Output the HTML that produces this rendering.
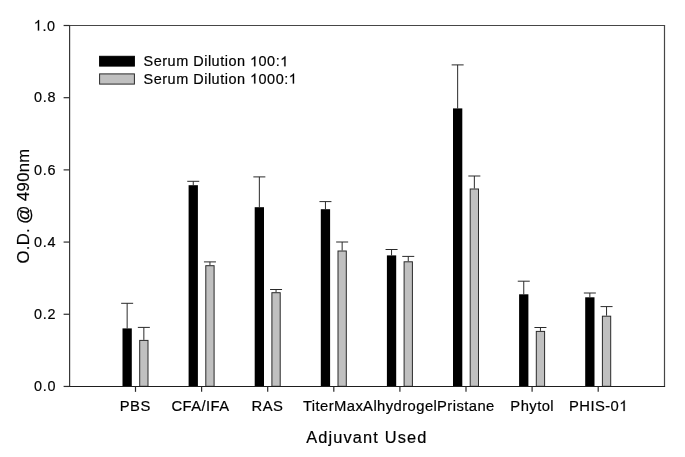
<!DOCTYPE html>
<html><head><meta charset="utf-8"><style>
html,body{margin:0;padding:0;background:#fff;}
svg{display:block;will-change:transform;filter:blur(0.3px);}
text{font-family:"Liberation Sans",sans-serif;fill:#000;stroke:#000;stroke-width:0.2px;}
</style></head><body>
<svg width="685" height="457" viewBox="0 0 685 457">
<line x1="127.15" y1="328.40" x2="127.15" y2="303.30" stroke="#2a2a2a" stroke-width="1"/>
<line x1="121.15" y1="303.30" x2="133.15" y2="303.30" stroke="#2a2a2a" stroke-width="1"/>
<line x1="143.85" y1="339.90" x2="143.85" y2="327.40" stroke="#2a2a2a" stroke-width="1"/>
<line x1="137.85" y1="327.40" x2="149.85" y2="327.40" stroke="#2a2a2a" stroke-width="1"/>
<rect x="122.50" y="328.40" width="9.30" height="57.90" fill="#000"/>
<rect x="139.70" y="340.40" width="8.30" height="45.90" fill="#c0c0c0" stroke="#2a2a2a" stroke-width="1"/>
<line x1="193.25" y1="185.20" x2="193.25" y2="181.30" stroke="#2a2a2a" stroke-width="1"/>
<line x1="187.25" y1="181.30" x2="199.25" y2="181.30" stroke="#2a2a2a" stroke-width="1"/>
<line x1="209.95" y1="265.20" x2="209.95" y2="261.90" stroke="#2a2a2a" stroke-width="1"/>
<line x1="203.95" y1="261.90" x2="215.95" y2="261.90" stroke="#2a2a2a" stroke-width="1"/>
<rect x="188.60" y="185.20" width="9.30" height="201.10" fill="#000"/>
<rect x="205.80" y="265.70" width="8.30" height="120.60" fill="#c0c0c0" stroke="#2a2a2a" stroke-width="1"/>
<line x1="259.35" y1="207.20" x2="259.35" y2="176.90" stroke="#2a2a2a" stroke-width="1"/>
<line x1="253.35" y1="176.90" x2="265.35" y2="176.90" stroke="#2a2a2a" stroke-width="1"/>
<line x1="276.05" y1="292.20" x2="276.05" y2="289.50" stroke="#2a2a2a" stroke-width="1"/>
<line x1="270.05" y1="289.50" x2="282.05" y2="289.50" stroke="#2a2a2a" stroke-width="1"/>
<rect x="254.70" y="207.20" width="9.30" height="179.10" fill="#000"/>
<rect x="271.90" y="292.70" width="8.30" height="93.60" fill="#c0c0c0" stroke="#2a2a2a" stroke-width="1"/>
<line x1="325.45" y1="209.20" x2="325.45" y2="201.60" stroke="#2a2a2a" stroke-width="1"/>
<line x1="319.45" y1="201.60" x2="331.45" y2="201.60" stroke="#2a2a2a" stroke-width="1"/>
<line x1="342.15" y1="250.50" x2="342.15" y2="242.00" stroke="#2a2a2a" stroke-width="1"/>
<line x1="336.15" y1="242.00" x2="348.15" y2="242.00" stroke="#2a2a2a" stroke-width="1"/>
<rect x="320.80" y="209.20" width="9.30" height="177.10" fill="#000"/>
<rect x="338.00" y="251.00" width="8.30" height="135.30" fill="#c0c0c0" stroke="#2a2a2a" stroke-width="1"/>
<line x1="391.55" y1="255.40" x2="391.55" y2="249.50" stroke="#2a2a2a" stroke-width="1"/>
<line x1="385.55" y1="249.50" x2="397.55" y2="249.50" stroke="#2a2a2a" stroke-width="1"/>
<line x1="408.25" y1="261.30" x2="408.25" y2="256.40" stroke="#2a2a2a" stroke-width="1"/>
<line x1="402.25" y1="256.40" x2="414.25" y2="256.40" stroke="#2a2a2a" stroke-width="1"/>
<rect x="386.90" y="255.40" width="9.30" height="130.90" fill="#000"/>
<rect x="404.10" y="261.80" width="8.30" height="124.50" fill="#c0c0c0" stroke="#2a2a2a" stroke-width="1"/>
<line x1="457.65" y1="108.40" x2="457.65" y2="64.90" stroke="#2a2a2a" stroke-width="1"/>
<line x1="451.65" y1="64.90" x2="463.65" y2="64.90" stroke="#2a2a2a" stroke-width="1"/>
<line x1="474.35" y1="188.50" x2="474.35" y2="176.00" stroke="#2a2a2a" stroke-width="1"/>
<line x1="468.35" y1="176.00" x2="480.35" y2="176.00" stroke="#2a2a2a" stroke-width="1"/>
<rect x="453.00" y="108.40" width="9.30" height="277.90" fill="#000"/>
<rect x="470.20" y="189.00" width="8.30" height="197.30" fill="#c0c0c0" stroke="#2a2a2a" stroke-width="1"/>
<line x1="523.75" y1="294.30" x2="523.75" y2="281.20" stroke="#2a2a2a" stroke-width="1"/>
<line x1="517.75" y1="281.20" x2="529.75" y2="281.20" stroke="#2a2a2a" stroke-width="1"/>
<line x1="540.45" y1="330.90" x2="540.45" y2="327.50" stroke="#2a2a2a" stroke-width="1"/>
<line x1="534.45" y1="327.50" x2="546.45" y2="327.50" stroke="#2a2a2a" stroke-width="1"/>
<rect x="519.10" y="294.30" width="9.30" height="92.00" fill="#000"/>
<rect x="536.30" y="331.40" width="8.30" height="54.90" fill="#c0c0c0" stroke="#2a2a2a" stroke-width="1"/>
<line x1="589.85" y1="297.30" x2="589.85" y2="293.00" stroke="#2a2a2a" stroke-width="1"/>
<line x1="583.85" y1="293.00" x2="595.85" y2="293.00" stroke="#2a2a2a" stroke-width="1"/>
<line x1="606.55" y1="315.70" x2="606.55" y2="306.60" stroke="#2a2a2a" stroke-width="1"/>
<line x1="600.55" y1="306.60" x2="612.55" y2="306.60" stroke="#2a2a2a" stroke-width="1"/>
<rect x="585.20" y="297.30" width="9.30" height="89.00" fill="#000"/>
<rect x="602.40" y="316.20" width="8.30" height="70.10" fill="#c0c0c0" stroke="#2a2a2a" stroke-width="1"/>
<line x1="69.00" y1="25.50" x2="665.10" y2="25.50" stroke="#464646" stroke-width="1.2"/>
<line x1="664.50" y1="25.50" x2="664.50" y2="386.45" stroke="#464646" stroke-width="1.2"/>
<line x1="69.60" y1="25.50" x2="69.60" y2="386.45" stroke="#383838" stroke-width="1.2"/>
<line x1="69.00" y1="386.45" x2="665.10" y2="386.45" stroke="#1e1e1e" stroke-width="1.1"/>
<line x1="63.60" y1="386.45" x2="69.60" y2="386.45" stroke="#2e2e2e" stroke-width="1.2"/>
<line x1="63.60" y1="314.26" x2="69.60" y2="314.26" stroke="#2e2e2e" stroke-width="1.2"/>
<line x1="63.60" y1="242.07" x2="69.60" y2="242.07" stroke="#2e2e2e" stroke-width="1.2"/>
<line x1="63.60" y1="169.88" x2="69.60" y2="169.88" stroke="#2e2e2e" stroke-width="1.2"/>
<line x1="63.60" y1="97.69" x2="69.60" y2="97.69" stroke="#2e2e2e" stroke-width="1.2"/>
<line x1="63.60" y1="25.50" x2="69.60" y2="25.50" stroke="#2e2e2e" stroke-width="1.2"/>
<line x1="135.50" y1="386.45" x2="135.50" y2="391.85" stroke="#2a2a2a" stroke-width="1.2"/>
<line x1="201.60" y1="386.45" x2="201.60" y2="391.85" stroke="#2a2a2a" stroke-width="1.2"/>
<line x1="267.70" y1="386.45" x2="267.70" y2="391.85" stroke="#2a2a2a" stroke-width="1.2"/>
<line x1="333.80" y1="386.45" x2="333.80" y2="391.85" stroke="#2a2a2a" stroke-width="1.2"/>
<line x1="399.90" y1="386.45" x2="399.90" y2="391.85" stroke="#2a2a2a" stroke-width="1.2"/>
<line x1="466.00" y1="386.45" x2="466.00" y2="391.85" stroke="#2a2a2a" stroke-width="1.2"/>
<line x1="532.10" y1="386.45" x2="532.10" y2="391.85" stroke="#2a2a2a" stroke-width="1.2"/>
<line x1="598.20" y1="386.45" x2="598.20" y2="391.85" stroke="#2a2a2a" stroke-width="1.2"/>
<rect x="99.6" y="56.3" width="34.8" height="9.8" fill="#000" stroke="#000" stroke-width="1"/>
<rect x="99.6" y="73.9" width="34.8" height="10.2" fill="#c0c0c0" stroke="#2a2a2a" stroke-width="1"/>
<g transform="translate(34.07,391.45) scale(0.930,1)">
<text id="t_y0" font-size="15.500" letter-spacing="0.710">0.0</text>
</g>
<g transform="translate(34.07,319.09) scale(0.930,1)">
<text id="t_y1" font-size="15.500" letter-spacing="0.710">0.2</text>
</g>
<g transform="translate(34.07,246.94) scale(0.930,1)">
<text id="t_y2" font-size="15.500" letter-spacing="0.710">0.4</text>
</g>
<g transform="translate(34.07,174.74) scale(0.930,1)">
<text id="t_y3" font-size="15.500" letter-spacing="0.710">0.6</text>
</g>
<g transform="translate(34.07,102.34) scale(0.930,1)">
<text id="t_y4" font-size="15.500" letter-spacing="0.710">0.8</text>
</g>
<g transform="translate(33.75,30.59) scale(0.930,1)">
<text id="t_y5" font-size="15.500" letter-spacing="0.710"><tspan style="fill:none;stroke:none">1</tspan>.0</text>
<path d="M763 0L583 0L583 1147Q518 1085 312 963L230 932L230 1106Q378 1176 590 1365L649 1466L763 1466Z" fill="#000" stroke="#000" stroke-width="0.2" vector-effect="non-scaling-stroke" transform="translate(0.000,0) scale(0.00757,-0.00727)"/>
</g>
<g transform="translate(143.60,66.30) scale(0.991,1)">
<text id="t_lg1" font-size="14.600" letter-spacing="0.512">Serum Dilution <tspan style="fill:none;stroke:none">1</tspan>00:<tspan style="fill:none;stroke:none">1</tspan></text>
<path d="M763 0L583 0L583 1147Q518 1085 312 963L230 932L230 1106Q378 1176 590 1365L649 1466L763 1466Z" fill="#000" stroke="#000" stroke-width="0.2" vector-effect="non-scaling-stroke" transform="translate(107.341,0) scale(0.00713,-0.00685)"/>
<path d="M763 0L583 0L583 1147Q518 1085 312 963L230 932L230 1106Q378 1176 590 1365L649 1466L763 1466Z" fill="#000" stroke="#000" stroke-width="0.2" vector-effect="non-scaling-stroke" transform="translate(137.775,0) scale(0.00713,-0.00685)"/>
</g>
<g transform="translate(143.60,83.60) scale(0.991,1)">
<text id="t_lg2" font-size="14.600" letter-spacing="0.512">Serum Dilution <tspan style="fill:none;stroke:none">1</tspan>000:<tspan style="fill:none;stroke:none">1</tspan></text>
<path d="M763 0L583 0L583 1147Q518 1085 312 963L230 932L230 1106Q378 1176 590 1365L649 1466L763 1466Z" fill="#000" stroke="#000" stroke-width="0.2" vector-effect="non-scaling-stroke" transform="translate(107.341,0) scale(0.00713,-0.00685)"/>
<path d="M763 0L583 0L583 1147Q518 1085 312 963L230 932L230 1106Q378 1176 590 1365L649 1466L763 1466Z" fill="#000" stroke="#000" stroke-width="0.2" vector-effect="non-scaling-stroke" transform="translate(146.392,0) scale(0.00713,-0.00685)"/>
</g>
<g transform="translate(119.83,411.00) scale(0.961,1)">
<text id="t_xPBS" font-size="15.400" letter-spacing="0.447">PBS</text>
</g>
<g transform="translate(171.49,411.00) scale(0.961,1)">
<text id="t_xCFA" font-size="15.400" letter-spacing="0.447">CFA/IFA</text>
</g>
<g transform="translate(251.58,411.00) scale(0.961,1)">
<text id="t_xRAS" font-size="15.400" letter-spacing="0.447">RAS</text>
</g>
<g transform="translate(302.93,411.00) scale(0.961,1)">
<text id="t_xTM" font-size="15.400" letter-spacing="0.447">TiterMax</text>
</g>
<g transform="translate(363.11,411.00) scale(0.961,1)">
<text id="t_xAl" font-size="15.400" letter-spacing="0.447">Alhydrogel</text>
</g>
<g transform="translate(437.02,411.00) scale(0.961,1)">
<text id="t_xPr" font-size="15.400" letter-spacing="0.447">Pristane</text>
</g>
<g transform="translate(510.36,411.00) scale(0.961,1)">
<text id="t_xPh" font-size="15.400" letter-spacing="0.447">Phytol</text>
</g>
<g transform="translate(569.00,411.00) scale(0.961,1)">
<text id="t_xPH" font-size="15.400" letter-spacing="0.447">PHIS-0<tspan style="fill:none;stroke:none">1</tspan></text>
<path d="M763 0L583 0L583 1147Q518 1085 312 963L230 932L230 1106Q378 1176 590 1365L649 1466L763 1466Z" fill="#000" stroke="#000" stroke-width="0.2" vector-effect="non-scaling-stroke" transform="translate(52.275,0) scale(0.00752,-0.00723)"/>
</g>
<g transform="translate(306.24,443.00) scale(0.982,1)">
<text id="t_xt" font-size="16.700" letter-spacing="1.140">Adjuvant Used</text>
</g>
<g transform="translate(29.10,263.51) rotate(-90) scale(0.960,1)">
<text id="t_yt" font-size="17.300" letter-spacing="0.354">O.D. <tspan style="fill:none;stroke:none">@</tspan> 490nm</text>
<text x="41.195" y="1.098" font-size="19.030">@</text>
</g>
</svg></body></html>
